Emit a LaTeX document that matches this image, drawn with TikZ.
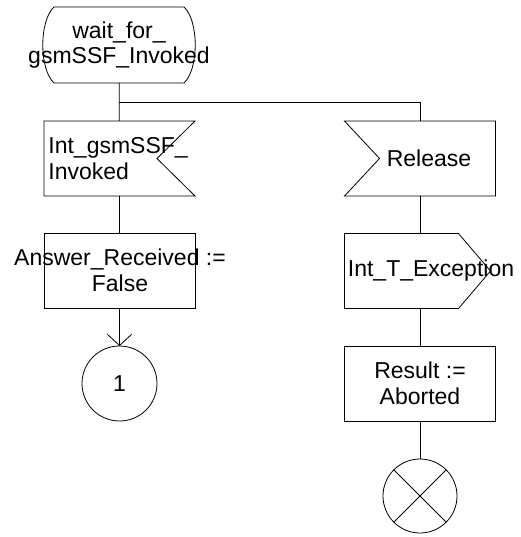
\documentclass[tikz,border=0pt]{standalone}
\usepackage{fontspec}
\setmainfont{Liberation Sans}
\usetikzlibrary{calc,arrows.meta}
\begin{document}
\begin{tikzpicture}[x=1pt,y=-1pt, line width=0.8pt,
  txt/.style={font=\fontsize{23}{25.5}\selectfont, inner sep=0pt},
  frame/.style={minimum width=151pt, minimum height=75pt, inner sep=0pt, outer sep=0pt},
  circ/.style={draw, circle, minimum size=75pt, inner sep=0pt, outer sep=0pt},
  flow/.style={draw},
  arr/.style={draw, -{Straight Barb[length=11pt,width=24pt]}}]
\useasboundingbox (0,0) rectangle (520,537);
% state
\node[frame, minimum width=152pt, minimum height=76pt] (st) at (119,45) {};
\draw ($(st.north west)+(11,0)$) -- ($(st.north east)+(-11,0)$)
  .. controls ($(st.north east)+(4,14)$) and ($(st.south east)+(4,-14)$) .. ($(st.south east)+(-11,0)$)
  -- ($(st.south west)+(11,0)$)
  .. controls ($(st.south west)+(-4,-14)$) and ($(st.north west)+(-4,14)$) .. ($(st.north west)+(11,0)$) -- cycle;
\node[txt, align=center] (stt) at (119,45) {wait\_for\_\\gsmSSF\_Invoked};
% left branch
\node[frame] (in1) at (119.5,158.5) {};
\draw (in1.north west) -- (in1.north east) -- ($(in1.east)+(-38,0)$) -- (in1.south east) -- (in1.south west) -- cycle;
\node[txt, align=left, anchor=west] (in1t) at ($(in1.west)+(4,0)$) {Int\_gsmSSF\_\\Invoked};
\node[frame, draw] (task) at (119.5,270.5) {};
\node[txt, align=center] (taskt) at (120,270.5) {Answer\_Received :=\\False};
\node[circ] (con) at (119.5,383.5) {};
\node[txt] (cont) at (con.center) {1};
% right branch
\node[frame] (rel) at (420,158.5) {};
\draw (rel.north west) -- (rel.north east) -- (rel.south east) -- (rel.south west) -- ($(rel.west)+(35,0)$) -- cycle;
\node[txt] (relt) at (429,158.5) {Release};
\node[frame] (out) at (420,271) {};
\draw (out.north west) -- ($(out.north east)+(-37,0)$) -- ($(out.east)+(-5,0)$) -- ($(out.south east)+(-37,0)$) -- (out.south west) -- cycle;
\node[txt, anchor=west] (outt) at ($(out.west)+(3,0)$) {Int\_T\_Exception};
\node[frame, draw] (res) at (420,383.5) {};
\node[txt, align=center] (rest) at (420,383.5) {Result :=\\Aborted};
\node[circ, minimum size=74pt] (term) at (420,496) {};
\draw (term.north west) -- (term.south east) (term.north east) -- (term.south west);
% connectors
\coordinate (br) at (119,102);
\draw[flow] (st) -- (in1);
\draw[flow] (br) -| (rel);
\draw[flow] (in1) -- (task);
\draw[arr] (task) -- (con);
\draw[flow] (rel) -- (out);
\draw[flow] (out) -- (res);
\draw[flow] (res) -- (term);
\end{tikzpicture}
\end{document}
